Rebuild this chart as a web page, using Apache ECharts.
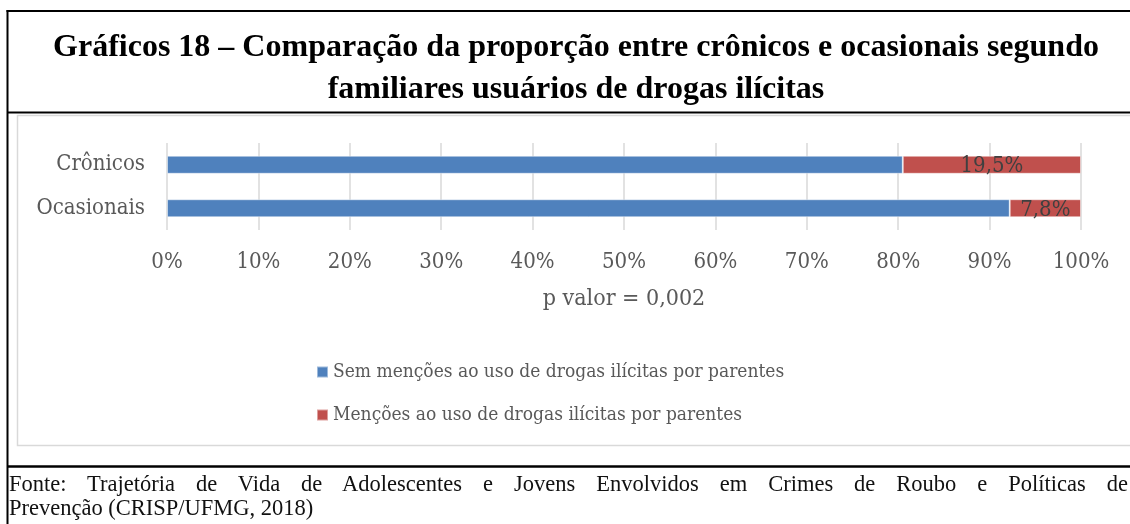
<!DOCTYPE html>
<html>
<head>
<meta charset="utf-8">
<script src="https://cdn.jsdelivr.net/npm/echarts@6/dist/echarts.min.js"></script>
<style>
  html, body { margin: 0; padding: 0; background: #fff; }
  #wrap { position: relative; width: 1130px; height: 524px; overflow: hidden; }
  #chart { position: absolute; left: 0; top: 0; width: 1130px; height: 524px; }
  #footer { position: absolute; left: 9px; top: 472px; width: 1119px;
            font-family: "Liberation Serif", "Times New Roman", serif; font-size: 22.5px;
            line-height: 24px; color: #111; }
  #footer .l1 { text-align: justify; text-align-last: justify; }
</style>
</head>
<body>
<div id="wrap">
  <div id="chart"></div>
  <div id="footer">
    <div class="l1">Fonte: Trajetória de Vida de Adolescentes e Jovens Envolvidos em Crimes de Roubo e Políticas de</div>
    <div class="l2">Prevenção (CRISP/UFMG, 2018)</div>
  </div>
</div>
<script>
const titleText = 'Gráficos 18 – Comparação da proporção entre crônicos e ocasionais segundo\nfamiliares usuários de drogas ilícitas';
const categories = ['Crônicos', 'Ocasionais'];
const seriesNames = ['Sem menções ao uso de drogas ilícitas por parentes', 'Menções ao uso de drogas ilícitas por parentes'];
const semMencoes = [80.5, 92.2];
const mencoes = [19.5, 7.8];
const axisName = 'p valor = 0,002';

const chart = echarts.init(document.getElementById('chart'), null, { renderer: 'canvas' });
const serif = '"DejaVu Serif Condensed", "DejaVu Serif", serif';
const fmtPct = v => v.toFixed(1).replace('.', ',') + '%';

chart.setOption({
  animation: false,
  backgroundColor: '#fff',
  title: {
    text: titleText,
    left: 576, top: 27, padding: 0,
    textAlign: 'center',
    textStyle: { fontFamily: '"Liberation Serif", "Times New Roman", serif', fontWeight: 'bold', fontSize: 32, lineHeight: 42, color: '#000' }
  },
  graphic: [
    { type: 'rect', shape: { x: 17.5, y: 115.5, width: 1130, height: 330 }, style: { fill: 'none', stroke: '#d9d9d9', lineWidth: 1.5 }, z: 0 },
    { type: 'line', shape: { x1: 6.5, y1: 11, x2: 1130, y2: 11 }, style: { stroke: '#000', lineWidth: 2 } },
    { type: 'line', shape: { x1: 7.5, y1: 10, x2: 7.5, y2: 524 }, style: { stroke: '#000', lineWidth: 2 } },
    { type: 'line', shape: { x1: 7, y1: 112.5, x2: 1130, y2: 112.5 }, style: { stroke: '#000', lineWidth: 2 } },
    { type: 'line', shape: { x1: 7, y1: 466.5, x2: 1130, y2: 466.5 }, style: { stroke: '#000', lineWidth: 2.5 } }
  ],
  grid: { left: 167, right: 49, top: 143, height: 87, containLabel: false },
  legend: {
    orient: 'vertical', left: 311, top: 356,
    icon: 'rect', itemWidth: 11, itemHeight: 11, itemGap: 21,
    data: seriesNames,
    textStyle: { fontFamily: serif, fontSize: 19, lineHeight: 22, color: '#595959' }
  },
  xAxis: {
    type: 'value', min: 0, max: 100, interval: 10,
    axisLine: { show: false }, axisTick: { show: false },
    splitLine: { show: true, lineStyle: { color: '#d9d9d9', width: 1.5 } },
    axisLabel: { formatter: '{value}%', fontFamily: serif, fontSize: 22, color: '#595959', margin: 21 },
    name: axisName, nameLocation: 'middle', nameGap: 58,
    nameTextStyle: { fontFamily: serif, fontSize: 23, color: '#595959' }
  },
  yAxis: {
    type: 'category', data: categories, inverse: true,
    axisLine: { show: false }, axisTick: { show: false },
    axisLabel: { fontFamily: serif, fontSize: 22, color: '#595959', margin: 22, padding: [3, 0, 0, 0] }
  },
  series: [
    {
      name: seriesNames[0], type: 'bar', stack: 'total', barWidth: 18,
      data: semMencoes,
      itemStyle: { color: '#4F81BD', borderColor: 'rgba(255,255,255,0.45)', borderWidth: 1 }
    },
    {
      name: seriesNames[1], type: 'bar', stack: 'total', barWidth: 18,
      data: mencoes,
      itemStyle: { color: '#C0504D', borderColor: 'rgba(255,255,255,0.45)', borderWidth: 1 },
      label: {
        show: true, position: 'inside', offset: [0, 2],
        formatter: p => fmtPct(p.value),
        fontFamily: serif, fontSize: 22, color: '#404040'
      }
    }
  ]
});
</script>
</body>
</html>
